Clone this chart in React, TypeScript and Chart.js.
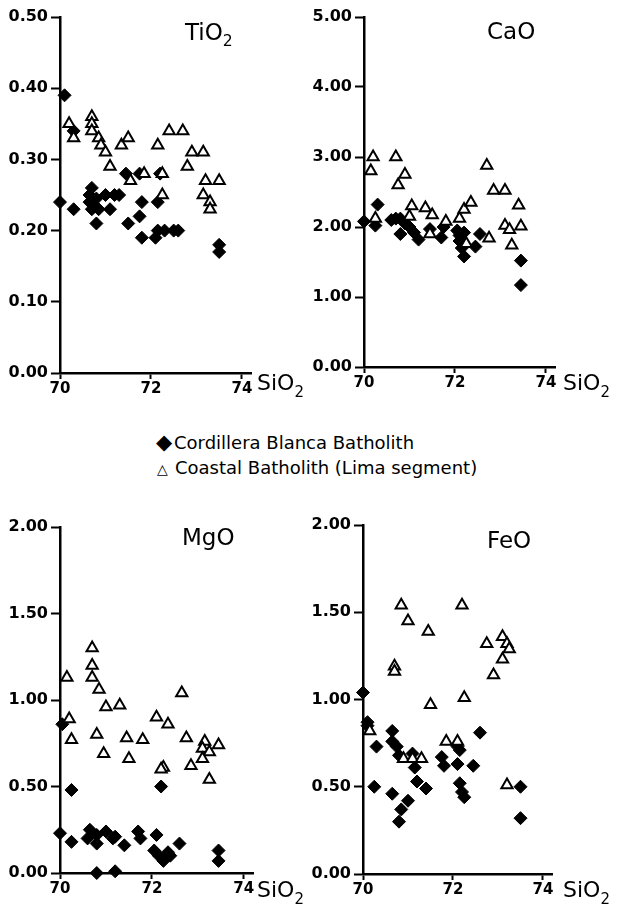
import React, { useEffect, useRef } from "react";
import { Chart, registerables } from "chart.js";

Chart.register(...registerables);

type Pt = [number, number];

// ---------- data ----------
const xTicks = [70, 72, 74];
const tio2Ticks = [0, 0.1, 0.2, 0.3, 0.4, 0.5];
const caoTicks = [0, 1, 2, 3, 4, 5];
const mgoTicks = [0, 0.5, 1, 1.5, 2];
const feoTicks = [0, 0.5, 1, 1.5, 2];

const seriesNames = ["Cordillera Blanca Batholith", "Coastal Batholith (Lima segment)"];

const tio2Blanca: Pt[] = [
  [70.1, 0.39], [70.3, 0.34], [70.0, 0.24], [70.3, 0.23], [70.7, 0.26], [70.65, 0.25], [70.65, 0.24],
  [70.7, 0.23], [70.75, 0.235], [70.8, 0.245], [70.8, 0.21], [70.85, 0.23], [71.0, 0.25], [71.1, 0.23],
  [71.2, 0.25], [71.3, 0.25], [71.5, 0.21], [71.45, 0.28], [71.75, 0.28], [71.8, 0.24], [71.75, 0.22],
  [71.8, 0.19], [72.2, 0.28], [72.15, 0.24], [72.1, 0.19], [72.15, 0.2], [72.3, 0.2], [72.5, 0.2],
  [72.6, 0.2], [73.5, 0.18], [73.5, 0.17],
];
const tio2Coastal: Pt[] = [
  [70.2, 0.35], [70.3, 0.33], [70.7, 0.36], [70.7, 0.35], [70.7, 0.34], [70.85, 0.33], [70.9, 0.32],
  [71.0, 0.31], [71.1, 0.29], [71.35, 0.32], [71.5, 0.33], [71.55, 0.27], [71.85, 0.28], [72.15, 0.32],
  [72.25, 0.28], [72.25, 0.25], [72.4, 0.34], [72.7, 0.34], [72.8, 0.29], [72.9, 0.31], [73.15, 0.31],
  [73.2, 0.27], [73.5, 0.27], [73.15, 0.25], [73.3, 0.24], [73.3, 0.23],
];

const caoBlanca: Pt[] = [
  [70.0, 2.08], [70.3, 2.32], [70.25, 2.02], [70.6, 2.1], [70.7, 2.12], [70.8, 2.12], [70.8, 1.9],
  [70.9, 2.05], [71.0, 2.0], [71.1, 1.92], [71.2, 1.82], [71.45, 1.97], [71.7, 1.85], [71.75, 2.0],
  [72.05, 1.95], [72.1, 1.8], [72.15, 1.7], [72.2, 1.58], [72.2, 1.92], [72.1, 1.88], [72.45, 1.72],
  [72.55, 1.9], [73.45, 1.52], [73.45, 1.17],
];
const caoCoastal: Pt[] = [
  [70.2, 3.0], [70.15, 2.8], [70.7, 3.0], [70.9, 2.75], [70.75, 2.6], [70.25, 2.12], [71.05, 2.3],
  [71.35, 2.27], [71.5, 2.17], [71.0, 2.15], [71.45, 1.9], [71.8, 2.08], [72.1, 2.12], [72.2, 2.25],
  [72.35, 2.35], [72.25, 1.76], [72.75, 1.84], [72.7, 2.88], [72.85, 2.52], [73.1, 2.52], [73.4, 2.31],
  [73.1, 2.02], [73.2, 1.96], [73.45, 2.01], [73.25, 1.74],
];

const mgoBlanca: Pt[] = [
  [70.05, 0.86], [70.25, 0.48], [72.2, 0.5], [70.0, 0.23], [70.25, 0.18], [70.65, 0.25], [70.6, 0.2],
  [70.8, 0.17], [70.8, 0.22], [71.0, 0.24], [71.15, 0.2], [71.2, 0.21], [71.4, 0.16], [71.7, 0.24],
  [71.75, 0.2], [72.1, 0.22], [72.05, 0.13], [72.15, 0.1], [72.25, 0.07], [72.35, 0.12], [72.4, 0.1],
  [72.6, 0.17], [70.8, 0.0], [71.2, 0.01], [73.45, 0.13], [73.45, 0.07],
];
const mgoCoastal: Pt[] = [
  [70.7, 1.3], [70.7, 1.2], [70.7, 1.13], [70.15, 1.13], [70.85, 1.06], [71.0, 0.96], [71.3, 0.97],
  [70.2, 0.89], [70.25, 0.77], [70.8, 0.8], [70.95, 0.69], [71.45, 0.78], [71.5, 0.66], [71.8, 0.77],
  [72.1, 0.9], [72.35, 0.86], [72.65, 1.04], [72.25, 0.61], [72.2, 0.6], [72.75, 0.78], [72.85, 0.62],
  [73.15, 0.76], [73.1, 0.72], [73.25, 0.7], [73.1, 0.66], [73.25, 0.54], [73.45, 0.74],
];

const feoBlanca: Pt[] = [
  [70.0, 1.04], [70.1, 0.87], [70.1, 0.85], [70.3, 0.73], [70.25, 0.5], [70.65, 0.82], [70.65, 0.76],
  [70.75, 0.73], [70.8, 0.68], [70.65, 0.46], [71.0, 0.42], [70.85, 0.37], [70.8, 0.3], [71.1, 0.69],
  [71.15, 0.61], [71.2, 0.53], [71.4, 0.49], [71.75, 0.67], [71.8, 0.62], [72.1, 0.73], [72.1, 0.63],
  [72.15, 0.52], [72.2, 0.47], [72.25, 0.44], [72.45, 0.62], [72.6, 0.81], [73.5, 0.5], [73.5, 0.32],
  [72.15, 0.71],
];
const feoCoastal: Pt[] = [
  [70.85, 1.54], [71.0, 1.45], [71.45, 1.39], [72.2, 1.54], [70.7, 1.19], [70.7, 1.16], [71.5, 0.97],
  [72.25, 1.01], [72.75, 1.32], [73.1, 1.36], [73.2, 1.32], [73.25, 1.29], [73.1, 1.23], [72.9, 1.14],
  [70.15, 0.82], [71.85, 0.76], [72.1, 0.76], [70.9, 0.66], [71.1, 0.66], [71.3, 0.66], [73.2, 0.51],
];

// ---------- panel ----------
type Area = { x0: number; y0: number; x1: number; y1: number };

const Y_AXIS_PAD_TOP = 17;
const X_AXIS_H = 30;
const RIGHT_PAD = 20;

function Panel(props: {
  area: Area;
  axisLeft: number;
  blanca: Pt[];
  coastal: Pt[];
  yTicks: number[];
}) {
  const ref = useRef<HTMLCanvasElement | null>(null);
  const { area, axisLeft, blanca, coastal, yTicks } = props;
  const canvasLeft = axisLeft;
  const canvasTop = area.y0 - Y_AXIS_PAD_TOP;
  const width = area.x1 - canvasLeft + RIGHT_PAD;
  const height = area.y1 - canvasTop + X_AXIS_H;
  const yAxisW = area.x0 - canvasLeft;

  useEffect(() => {
    if (!ref.current) return;
    const chart = new Chart(ref.current, {
      type: "scatter",
      data: {
        datasets: [
          {
            label: seriesNames[1],
            data: coastal.map(([x, y]) => ({ x, y })),
            pointStyle: "triangle",
            pointRadius: 6.5,
            backgroundColor: "#ffffff",
            borderColor: "#000000",
            borderWidth: 2,
            clip: false,
          },
          {
            label: seriesNames[0],
            data: blanca.map(([x, y]) => ({ x, y })),
            pointStyle: "rectRot",
            pointRadius: 6.5,
            backgroundColor: "#000000",
            borderColor: "#000000",
            borderWidth: 1,
            clip: false,
          },
        ],
      },
      options: {
        animation: false,
        responsive: false,
        maintainAspectRatio: false,
        layout: { padding: { top: Y_AXIS_PAD_TOP, right: RIGHT_PAD, left: 0, bottom: 0 } },
        plugins: { legend: { display: false }, tooltip: { enabled: false } },
        scales: {
          x: {
            type: "linear",
            min: 70,
            max: 74.2,
            afterBuildTicks: (s: any) => {
              s.ticks = xTicks.map((v) => ({ value: v }));
            },
            afterFit: (s: any) => {
              s.height = X_AXIS_H;
            },
            border: { display: true, color: "#000", width: 2.5 },
            grid: { drawOnChartArea: false, drawTicks: true, tickLength: 6, tickWidth: 2, tickColor: "#000" },
            ticks: {
              color: "#000",
              padding: 1,
              maxRotation: 0,
              font: { family: "DejaVu Sans", weight: "bold", size: 15 },
              callback: (v: any) => String(v),
            },
          },
          y: {
            type: "linear",
            min: yTicks[0],
            max: yTicks[yTicks.length - 1],
            afterBuildTicks: (s: any) => {
              s.ticks = yTicks.map((v) => ({ value: v }));
            },
            afterFit: (s: any) => {
              s.width = yAxisW;
            },
            border: { display: true, color: "#000", width: 2.5 },
            grid: { drawOnChartArea: false, drawTicks: true, tickLength: 9, tickWidth: 2, tickColor: "#000" },
            ticks: {
              color: "#000",
              padding: 3,
              font: { family: "DejaVu Sans", weight: "bold", size: 16 },
              callback: (v: any) => Number(v).toFixed(2),
            },
          },
        },
      },
    } as any);
    return () => chart.destroy();
  }, []);

  return (
    <canvas
      ref={ref}
      width={width}
      height={height}
      style={{ position: "absolute", left: canvasLeft, top: canvasTop, width, height }}
    />
  );
}

function Label(props: {
  left: number;
  baseline: number;
  size: number;
  text: string;
  sub?: string;
  mark?: string;
  markSize?: number;
}) {
  const { left, baseline, size, text, sub, mark, markSize } = props;
  // DejaVu Sans: ascent .928, descent .236
  const top = baseline - ((size - 1.164 * size) / 2 + 0.928 * size);
  return (
    <div
      style={{
        position: "absolute",
        left,
        top,
        fontFamily: "DejaVu Sans",
        fontSize: size,
        lineHeight: `${size}px`,
        whiteSpace: "nowrap",
        color: "#000",
      }}
    >
      {mark ? (
        <span style={{ fontSize: markSize || size, display: "inline-block", width: 18 }}>{mark}</span>
      ) : null}
      {text}
      {sub ? (
        <span style={{ fontSize: size * 0.68, position: "relative", top: size * 0.28 }}>{sub}</span>
      ) : null}
    </div>
  );
}

export default function App() {
  return (
    <div
      style={{
        position: "absolute",
        left: 0,
        top: 0,
        width: 621,
        height: 907,
        overflow: "hidden",
        background: "#fff",
      }}
    >
      <Panel area={{ x0: 60, y0: 17, x1: 251, y1: 373 }} axisLeft={0} blanca={tio2Blanca} coastal={tio2Coastal} yTicks={tio2Ticks} />
      <Panel area={{ x0: 364, y0: 17, x1: 555, y1: 367 }} axisLeft={310} blanca={caoBlanca} coastal={caoCoastal} yTicks={caoTicks} />
      <Panel area={{ x0: 60, y0: 527, x1: 253, y1: 873 }} axisLeft={0} blanca={mgoBlanca} coastal={mgoCoastal} yTicks={mgoTicks} />
      <Panel area={{ x0: 363, y0: 525, x1: 552, y1: 874 }} axisLeft={310} blanca={feoBlanca} coastal={feoCoastal} yTicks={feoTicks} />

      <Label left={185} baseline={40} size={23} text="TiO" sub="2" />
      <Label left={487} baseline={39} size={23} text="CaO" />
      <Label left={182} baseline={545} size={23} text="MgO" />
      <Label left={487} baseline={548} size={23} text="FeO" />

      <Label left={257} baseline={391} size={22} text="SiO" sub="2" />
      <Label left={563} baseline={391} size={22} text="SiO" sub="2" />
      <Label left={257} baseline={898} size={22} text="SiO" sub="2" />
      <Label left={563} baseline={898} size={22} text="SiO" sub="2" />

      <Label left={156} baseline={448} size={18} mark={"\u25C6"} markSize={21} text={seriesNames[0]} />
      <Label left={157} baseline={474} size={18} mark={"\u25B3"} markSize={14} text={seriesNames[1]} />
    </div>
  );
}
